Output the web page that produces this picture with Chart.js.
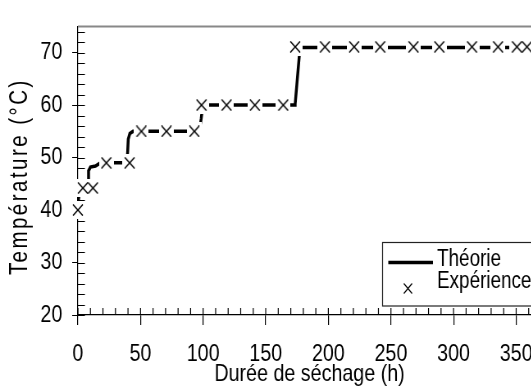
<!DOCTYPE html>
<html>
<head>
<meta charset="utf-8">
<title>Température - Durée de séchage</title>
<script src="https://cdn.jsdelivr.net/npm/chart.js"></script>
<style>
    body { margin: 0; overflow: hidden; background: #fff; }
    /* the original uses a narrow face; squeeze the whole drawing instead */
    #wrap { width: 683px; height: 390px; transform: scaleX(0.82); transform-origin: 0 0; }
</style>
</head>
<body>
<div id="wrap"><canvas id="dryChart" width="683" height="390"></canvas></div>
<script>
    // Théorie (step-like curve)
    var theoTime = [0, 0.5, 1.5, 6, 8, 8.5, 10, 14, 18, 39, 39.7, 40.2, 41.5, 44, 97, 98.5, 99.5, 101, 173, 173.5, 176.8, 177.8, 370];
    var theoTemp = [40, 42, 44, 44.5, 45.5, 47.5, 48.2, 48.4, 49, 49, 51, 53.5, 54.6, 55, 55, 57.5, 59.5, 60, 60, 60.2, 69.4, 71, 71];

    // Expérience (measured points)
    var expTime = [0, 4, 12, 22.7, 41.3, 50.7, 70.7, 93, 98.7, 118.7, 141.3, 164, 173.5, 197.3, 220.6, 241.4, 268, 288.6, 314.7, 335.5, 350.6, 358.6];
    var expTemp = [40, 44.2, 44.2, 49, 49, 55, 55, 55, 60, 60, 60, 60, 71.1, 71.1, 71.1, 71.1, 71.1, 71.1, 71.1, 71.1, 71.1, 71.1];

    // axis ticks
    var xTicks = [0, 50, 100, 150, 200, 250, 300, 350];
    var yTicks = [20, 30, 40, 50, 60, 70];
    var yTitle = 'Température (°C)';

    var SQ = 0.82;
    var FONT = "'Liberation Sans', Arial, sans-serif";

    function pts(xs, ys) {
        return xs.map(function (x, i) { return {x: x, y: ys[i]}; });
    }

    function makeBox(w, h) {
        var c = document.createElement('canvas');
        c.width = w; c.height = h;
        var g = c.getContext('2d');
        g.fillStyle = '#fff';
        g.fillRect(0, 0, w, h);
        return c;
    }

    function makeCross(w, h) {
        var c = document.createElement('canvas');
        c.width = w; c.height = h;
        var g = c.getContext('2d');
        g.strokeStyle = '#000';
        g.lineWidth = 1.5;
        g.beginPath();
        g.moveTo(1, 0.5); g.lineTo(w - 1, h - 0.5);
        g.moveTo(w - 1, 0.5); g.lineTo(1, h - 0.5);
        g.stroke();
        return c;
    }

    // small inside ticks, grey frame, y title
    var innerTicks = {
        id: 'innerTicks',
        beforeDatasetsDraw: function (chart) {
            var ctx = chart.ctx, a = chart.chartArea;
            var xs = chart.scales.x, ys = chart.scales.y;
            ctx.save();
            ctx.strokeStyle = '#888';
            ctx.lineWidth = 2;
            ctx.beginPath();
            ctx.moveTo(a.left, a.top);
            ctx.lineTo(a.right, a.top);
            ctx.lineTo(a.right, a.bottom);
            ctx.stroke();
            ctx.strokeStyle = '#000';
            ctx.lineWidth = 1.2;
            ctx.beginPath();
            for (var v = 0; v <= 360; v += 10) {
                var px = xs.getPixelForValue(v);
                ctx.moveTo(px, a.bottom);
                ctx.lineTo(px, a.bottom - 7);
            }
            ctx.stroke();
            ctx.lineWidth = 1;
            ctx.beginPath();
            for (var t = 20; t <= 74; t += 2) {
                var py = Math.round(ys.getPixelForValue(t)) + 0.5;
                ctx.moveTo(a.left, py);
                ctx.lineTo(a.left + 7 / SQ, py);
            }
            ctx.stroke();

            // rotated y title, kept un-squeezed across and narrow along
            ctx.fillStyle = '#000';
            ctx.font = '25px ' + FONT;
            ctx.letterSpacing = '3px';
            ctx.textAlign = 'center';
            ctx.textBaseline = 'middle';
            ctx.translate(20 / SQ, (a.top + a.bottom) / 2 + 6);
            ctx.rotate(-Math.PI / 2);
            ctx.scale(SQ, 1 / SQ);
            ctx.fillText(yTitle, 0, 0);
            ctx.restore();
        }
    };

    // boxed legend inside the plot, bottom right
    var boxLegend = {
        id: 'boxLegend',
        afterDraw: function (chart) {
            var ctx = chart.ctx, a = chart.chartArea;
            var left = a.left + 371.5, top = a.bottom - 72.5;
            ctx.save();
            ctx.fillStyle = '#fff';
            ctx.fillRect(left, top, 400, 63.5);
            ctx.strokeStyle = '#222';
            ctx.lineWidth = 1.2;
            ctx.strokeRect(left, top, 400, 63.5);

            ctx.strokeStyle = '#000';
            ctx.lineWidth = 3.5;
            ctx.beginPath();
            ctx.moveTo(left + 7, top + 20);
            ctx.lineTo(left + 61.5, top + 20);
            ctx.stroke();

            ctx.lineWidth = 1.3;
            ctx.beginPath();
            var cx = left + 31, cy = top + 46;
            ctx.moveTo(cx - 5, cy - 5); ctx.lineTo(cx + 5, cy + 5);
            ctx.moveTo(cx + 5, cy - 5); ctx.lineTo(cx - 5, cy + 5);
            ctx.stroke();

            ctx.fillStyle = '#000';
            ctx.font = '23px ' + FONT;
            ctx.textAlign = 'left';
            ctx.textBaseline = 'middle';
            ctx.fillText(chart.data.datasets[0].label, left + 66.5, top + 17.5);
            ctx.fillText(chart.data.datasets[2].label, left + 66.5, top + 39);
            ctx.restore();
        }
    };

    new Chart('dryChart', {
        type: 'scatter',
        data: {
            datasets: [{
                label: 'Théorie',
                data: pts(theoTime, theoTemp),
                showLine: true,
                borderColor: '#000',
                borderWidth: 3.5,
                pointRadius: 0,
                tension: 0,
                order: 2
            }, {
                label: 'halo',
                data: pts(expTime, expTemp),
                pointStyle: makeBox(18, 18),
                pointRadius: 9,
                clip: false,
                order: 1
            }, {
                label: 'Expérience',
                data: pts(expTime, expTemp),
                pointStyle: makeCross(14, 12),
                pointRadius: 7,
                clip: false,
                order: 0
            }]
        },
        options: {
            responsive: false,
            animation: false,
            layout: {padding: {top: 14, right: 23, left: 0, bottom: 0}},
            plugins: {legend: {display: false}, tooltip: {enabled: false}},
            scales: {
                x: {
                    type: 'linear',
                    min: 0,
                    max: 370,
                    afterBuildTicks: function (s) { s.ticks = xTicks.map(function (v) { return {value: v}; }); },
                    afterFit: function (s) { s.height = 75; },
                    border: {color: '#000', width: 1.2},
                    grid: {drawOnChartArea: false, tickLength: 10, color: '#000', lineWidth: 1.2},
                    ticks: {color: '#000', padding: 15, maxRotation: 0, font: {family: FONT, size: 24}},
                    title: {display: true, text: 'Durée de séchage (h)', color: '#000', padding: {top: 0, bottom: 4}, font: {family: FONT, size: 24, lineHeight: 1}}
                },
                y: {
                    min: 20,
                    max: 75,
                    afterBuildTicks: function (s) { s.ticks = yTicks.map(function (v) { return {value: v}; }); },
                    afterFit: function (s) { s.width = 95; },
                    border: {color: '#000', width: 1.2},
                    grid: {drawOnChartArea: false, tickLength: 7, color: '#000'},
                    ticks: {color: '#000', padding: 12, font: {family: FONT, size: 24}},
                    title: {display: false}
                }
            }
        },
        plugins: [innerTicks, boxLegend]
    });
</script>
</body>
</html>
